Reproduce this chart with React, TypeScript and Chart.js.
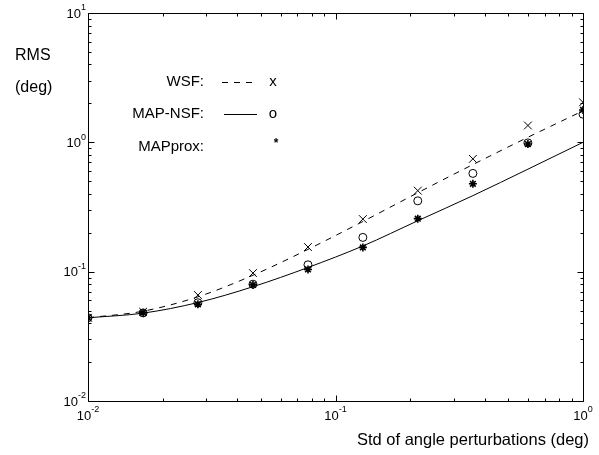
import React, { useEffect, useRef } from 'react';
import { Chart, registerables } from 'chart.js';

Chart.register(...registerables);

// Standard deviation of angle perturbations (deg), log spaced
const stdDeg = [0.01, 0.0167, 0.0278, 0.0464, 0.0774, 0.129, 0.215, 0.359, 0.599, 1.0];
// Theoretical curves
const wsfCurve = [0.044, 0.0495, 0.0639, 0.0938, 0.1487, 0.2443, 0.4075, 0.673, 1.094, 1.752];
const mapNsfCurve = [0.044, 0.0478, 0.0577, 0.0765, 0.1077, 0.158, 0.2475, 0.387, 0.62, 1.0];
// Empirical points
const wsfPoints = [0.044, 0.049, 0.066, 0.0975, 0.155, 0.255, 0.423, 0.745, 1.35, 2.04];
const mapNsfPoints = [0.044, 0.048, 0.0575, 0.08, 0.113, 0.184, 0.353, 0.575, 0.99, 1.65];
const mapProxPoints = [0.044, 0.048, 0.056, 0.079, 0.104, 0.154, 0.257, 0.478, 0.97, 1.78];

const xTickExps = [-2, -1, 0];
const yTickExps = [-2, -1, 0, 1];
const legendLabels = ['WSF:', 'MAP-NSF:', 'MAPprox:'];
const legendSymbols = ['x', 'o', '*'];
const yTitleLines = ['RMS', '(deg)'];
const xTitle = 'Std of angle perturbations (deg)';

const FONT = '"Liberation Sans", Arial, Helvetica, sans-serif';

function pts(ys: number[]) {
  return stdDeg.map((x, i) => ({ x, y: ys[i] }));
}

function expLabel(e: number) {
  return e < 0 ? '-' + Math.abs(e) : String(e);
}

const decorPlugin = {
  id: 'decor',
  afterDraw(chart: any) {
    const { ctx, chartArea: a, scales } = chart;
    const xs = scales.x;
    const ys = scales.y;
    ctx.save();
    ctx.strokeStyle = '#000';
    ctx.fillStyle = '#000';
    ctx.lineWidth = 1;
    const L = Math.round(a.left) + 0.5;
    const R = Math.round(a.right) + 0.5;
    const T = Math.round(a.top) + 0.5;
    const B = Math.round(a.bottom) + 0.5;
    ctx.beginPath();
    ctx.rect(L, T, R - L, B - T);
    ctx.stroke();

    const line = (x1: number, y1: number, x2: number, y2: number) => {
      ctx.beginPath();
      ctx.moveTo(x1, y1);
      ctx.lineTo(x2, y2);
      ctx.stroke();
    };
    // x ticks (inward, top and bottom)
    for (let e = -2; e <= 0; e++) {
      for (let m = 1; m <= 9; m++) {
        const v = m * Math.pow(10, e);
        if (v > 1.0001) break;
        const px = Math.round(xs.getPixelForValue(v)) + 0.5;
        const len = m === 1 ? 6 : 3;
        line(px, B, px, B - len);
        line(px, T, px, T + len);
      }
    }
    // y ticks (inward, left and right)
    for (let e = -2; e <= 1; e++) {
      for (let m = 1; m <= 9; m++) {
        const v = m * Math.pow(10, e);
        if (v > 10.0001) break;
        const py = Math.round(ys.getPixelForValue(v)) + 0.5;
        const len = m === 1 ? 6 : 3;
        line(L, py, L + len, py);
        line(R, py, R - len, py);
      }
    }

    const baseFont = '13px ' + FONT;
    const supFont = '9px ' + FONT;
    ctx.textBaseline = 'middle';
    ctx.textAlign = 'left';
    // y tick labels
    yTickExps.forEach((e) => {
      const py = ys.getPixelForValue(Math.pow(10, e));
      ctx.font = baseFont;
      const bw = ctx.measureText('10').width;
      ctx.font = supFont;
      const ew = ctx.measureText(expLabel(e)).width;
      const right = a.left - 2;
      ctx.font = baseFont;
      ctx.fillText('10', right - ew - bw, py + 1);
      ctx.font = supFont;
      ctx.fillText(expLabel(e), right - ew, py - 5);
    });
    // x tick labels
    xTickExps.forEach((e) => {
      const px = xs.getPixelForValue(Math.pow(10, e));
      ctx.font = baseFont;
      const bw = ctx.measureText('10').width;
      ctx.font = supFont;
      const ew = ctx.measureText(expLabel(e)).width;
      const left = px - (bw + ew) / 2;
      const cy = a.bottom + 15;
      ctx.font = baseFont;
      ctx.fillText('10', left, cy);
      ctx.font = supFont;
      ctx.fillText(expLabel(e), left + bw, cy - 6);
    });

    // axis titles
    ctx.font = '16px ' + FONT;
    ctx.textAlign = 'left';
    ctx.fillText(yTitleLines[0], 15, 56);
    ctx.fillText(yTitleLines[1], 15, 88);
    ctx.font = '16.5px ' + FONT;
    ctx.textAlign = 'right';
    ctx.fillText(xTitle, 589, 440);

    // legend
    const rowsY = [82, 114, 147];
    ctx.font = '15px ' + FONT;
    ctx.textAlign = 'right';
    legendLabels.forEach((lab, i) => ctx.fillText(lab, 204, rowsY[i]));
    ctx.setLineDash([6, 6]);
    line(222, rowsY[0] + 0.5, 258, rowsY[0] + 0.5);
    ctx.setLineDash([]);
    line(224, rowsY[1] + 0.5, 257, rowsY[1] + 0.5);
    ctx.textAlign = 'center';
    ctx.fillText(legendSymbols[0], 273, rowsY[0]);
    ctx.fillText(legendSymbols[1], 273, rowsY[1]);
    ctx.font = 'bold 12px ' + FONT;
    ctx.fillText(legendSymbols[2], 276, rowsY[2] - 3);
    ctx.restore();
  },
};

export default function App() {
  const ref = useRef<HTMLCanvasElement | null>(null);
  useEffect(() => {
    if (!ref.current) return;
    const chart = new Chart(ref.current, {
      type: 'scatter',
      data: {
        datasets: [
          {
            label: 'WSF curve',
            data: pts(wsfCurve),
            showLine: true,
            borderColor: '#000',
            borderWidth: 1,
            borderDash: [6, 6],
            pointRadius: 0,
            cubicInterpolationMode: 'monotone',
          },
          {
            label: 'MAP-NSF curve',
            data: pts(mapNsfCurve),
            showLine: true,
            borderColor: '#000',
            borderWidth: 1,
            pointRadius: 0,
            cubicInterpolationMode: 'monotone',
          },
          {
            label: 'WSF',
            data: pts(wsfPoints),
            showLine: false,
            pointStyle: 'crossRot',
            pointRadius: 5.5,
            borderColor: '#000',
            borderWidth: 1,
          },
          {
            label: 'MAP-NSF',
            data: pts(mapNsfPoints),
            showLine: false,
            pointStyle: 'circle',
            pointRadius: 4,
            backgroundColor: 'rgba(0,0,0,0)',
            borderColor: '#000',
            borderWidth: 1,
          },
          {
            label: 'MAPprox',
            data: pts(mapProxPoints),
            showLine: false,
            pointStyle: 'star',
            pointRadius: 4,
            borderColor: '#000',
            borderWidth: 1.6,
          },
        ],
      } as any,
      options: {
        animation: false,
        responsive: true,
        maintainAspectRatio: false,
        layout: { padding: { left: 88, right: 16, top: 13, bottom: 54 } },
        scales: {
          x: { type: 'logarithmic', min: 0.01, max: 1, display: false },
          y: { type: 'logarithmic', min: 0.01, max: 10, display: false },
        },
        plugins: {
          legend: { display: false },
          tooltip: { enabled: false },
        },
        events: [],
      } as any,
      plugins: [decorPlugin],
    });
    return () => chart.destroy();
  }, []);
  return (
    <div style={{ position: 'absolute', left: 0, top: 0, width: 599, height: 455, background: '#fff' }}>
      <canvas ref={ref} />
    </div>
  );
}
